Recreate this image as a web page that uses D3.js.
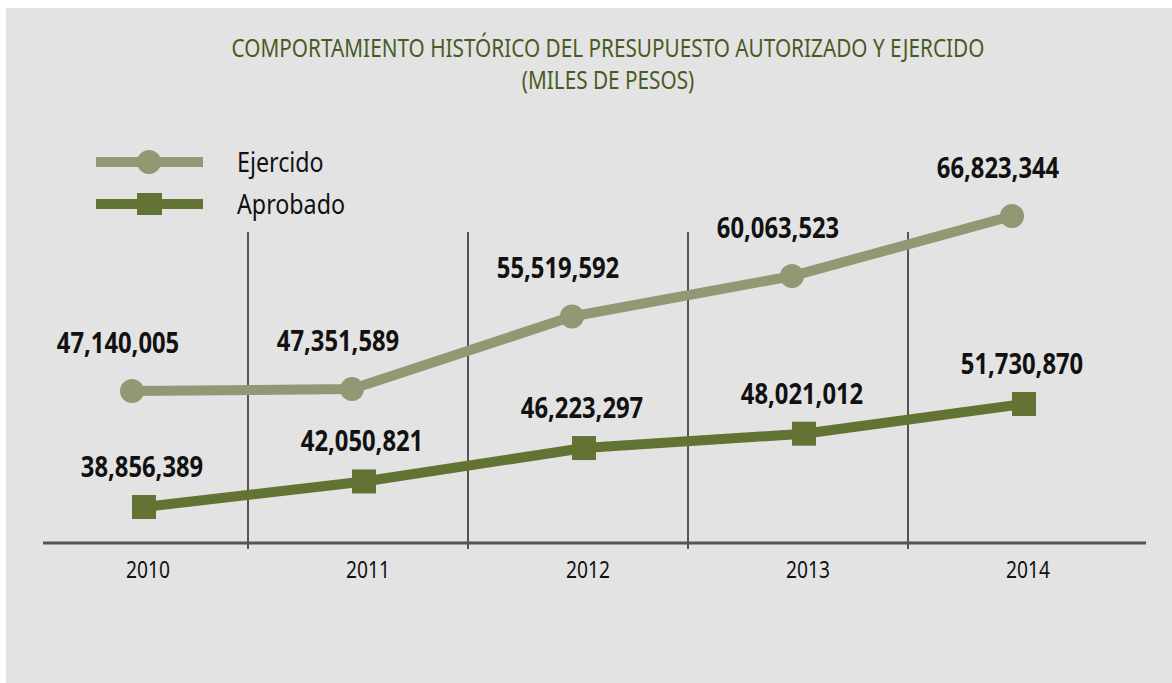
<!DOCTYPE html>
<html><head><meta charset="utf-8">
<script src="https://cdn.jsdelivr.net/npm/d3@7"></script>
<style>
body{margin:0;background:#fff;}
text{font-family:"Noto Sans","Open Sans",sans-serif;}
</style></head>
<body><svg id="c" width="1172" height="683"></svg>
<script>
const years = ["2010","2011","2012","2013","2014"];
const ejercido = [47140005, 47351589, 55519592, 60063523, 66823344];
const aprobado = [38856389, 42050821, 46223297, 48021012, 51730870];
const seriesNames = ["Ejercido","Aprobado"];
const titleLines = ["COMPORTAMIENTO HISTÓRICO DEL PRESUPUESTO AUTORIZADO Y EJERCIDO","(MILES DE PESOS)"];

const svg = d3.select("#c");
const colE = "#949774", colA = "#627334";
svg.append("rect").attr("x",6).attr("y",8).attr("width",1166).attr("height",675).attr("fill","#e3e3e3");

// place condensed text: translate then horizontal squeeze
function place(sel, fx, fy, sx){
  sel.attr("transform",(d,i)=>`translate(${fx(d,i)},${fy(d,i)}) scale(${sx},1)`);
  return sel;
}

const x = d3.scaleBand().domain(years).range([40,1140]);
const cx = d => x(d) + x.bandwidth()/2;
// separate vertical scales for each series, as in the original infographic
const yE = d3.scaleLinear().domain([47140005, 66823344]).range([391, 216]);
const yA = d3.scaleLinear().domain([38856389, 51730870]).range([507, 404]);

// title
const tt = svg.selectAll("text.title").data(titleLines).join("text").attr("class","title")
  .attr("text-anchor","middle").attr("font-size",25).attr("fill","#4a5a24").text(d=>d);
place(tt, ()=>608, (d,i)=>57+i*32, 0.83);

// dividers
const axisY = 543;
svg.selectAll("line.div").data(years.slice(1)).join("line").attr("class","div")
  .attr("x1",d=>x(d)-12).attr("x2",d=>x(d)-12)
  .attr("y1",232).attr("y2",549).attr("stroke","#555").attr("stroke-width",2);
// axis
const ax = svg.append("g").attr("transform",`translate(0,${axisY})`)
  .call(d3.axisBottom(x).tickSize(0).tickPadding(18));
ax.select(".domain").attr("stroke","#555").attr("stroke-width",3).attr("d","M43,0H1146");
ax.selectAll(".tick text").attr("font-size",24).attr("fill","#111")
  .attr("font-family","'Noto Sans',sans-serif")
  .attr("transform","scale(0.8,1)").attr("x",0);
ax.selectAll(".tick").attr("transform",d=>`translate(${cx(d)-2},0)`);

const offE = -18, offA = -6;
const line = (ys, off) => d3.line().x((d,i)=>cx(years[i])+off).y(d=>ys(d));
svg.append("path").datum(ejercido).attr("d",line(yE,offE)).attr("fill","none")
  .attr("stroke",colE).attr("stroke-width",10).attr("stroke-linejoin","round");
svg.append("path").datum(aprobado).attr("d",line(yA,offA)).attr("fill","none")
  .attr("stroke",colA).attr("stroke-width",10).attr("stroke-linejoin","round");

svg.selectAll("circle.pe").data(ejercido).join("circle").attr("class","pe")
  .attr("cx",(d,i)=>cx(years[i])+offE).attr("cy",d=>yE(d)).attr("r",12).attr("fill",colE);
svg.selectAll("rect.pa").data(aprobado).join("rect").attr("class","pa")
  .attr("x",(d,i)=>cx(years[i])+offA-12).attr("y",d=>yA(d)-12)
  .attr("width",24).attr("height",24).attr("fill",colA);

const fmt = d3.format(",");
const le = svg.selectAll("text.le").data(ejercido).join("text").attr("class","le")
  .attr("text-anchor","middle").attr("font-size",28).attr("font-weight","bold")
  .attr("fill","#111").text(d=>fmt(d));
place(le, (d,i)=>cx(years[i])+offE-14, d=>yE(d)-38, 0.85);
const la = svg.selectAll("text.la").data(aprobado).join("text").attr("class","la")
  .attr("text-anchor","middle").attr("font-size",28).attr("font-weight","bold")
  .attr("fill","#111").text(d=>fmt(d));
place(la, (d,i)=>cx(years[i])+offA-2, d=>yA(d)-30, 0.85);

// legend
const leg = svg.selectAll("g.leg").data(seriesNames).join("g").attr("class","leg")
  .attr("transform",(d,i)=>`translate(0,${162+i*42})`);
leg.append("line").attr("x1",96).attr("x2",203).attr("y1",0).attr("y2",0)
  .attr("stroke",(d,i)=>i?colA:colE).attr("stroke-width",10);
leg.filter((d,i)=>i===0).append("circle").attr("cx",149).attr("cy",0).attr("r",12).attr("fill",colE);
leg.filter((d,i)=>i===1).append("rect").attr("x",137).attr("y",-11).attr("width",25).attr("height",22).attr("fill",colA);
leg.append("text").attr("font-size",28).attr("fill","#111").text(d=>d)
  .attr("transform","translate(237,10) scale(0.83,1)");
</script></body></html>
